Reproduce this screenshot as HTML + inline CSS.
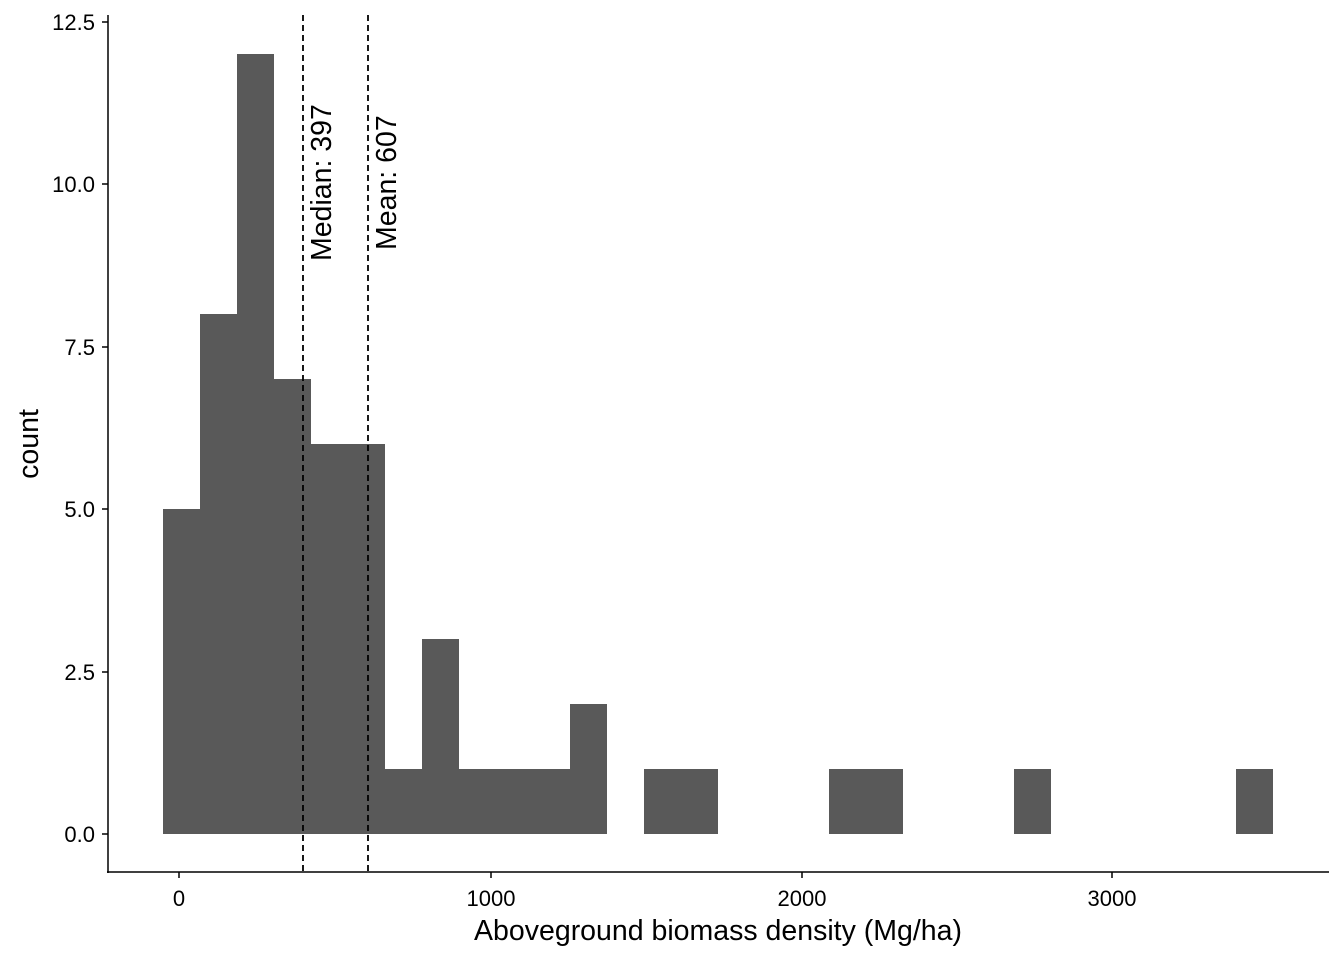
<!DOCTYPE html>
<html><head><style>body{margin:0;background:#fff}</style></head><body>
<svg width="1344" height="960" xmlns="http://www.w3.org/2000/svg" font-family="Liberation Sans, Arial, sans-serif">
<rect width="1344" height="960" fill="#fff"/>
<g fill="#595959">
<rect x="163" y="509" width="37" height="325"/>
<rect x="200" y="314" width="37" height="520"/>
<rect x="237" y="54" width="37" height="780"/>
<rect x="274" y="379" width="37" height="455"/>
<rect x="311" y="444" width="74" height="390"/>
<rect x="385" y="769" width="37" height="65"/>
<rect x="422" y="639" width="37" height="195"/>
<rect x="459" y="769" width="111" height="65"/>
<rect x="570" y="704" width="37" height="130"/>
<rect x="644" y="769" width="74" height="65"/>
<rect x="829" y="769" width="74" height="65"/>
<rect x="1014" y="769" width="37" height="65"/>
<rect x="1236" y="769" width="37" height="65"/>
</g>
<g stroke="#000" stroke-width="1.8" stroke-dasharray="6,4">
<line x1="303" y1="15" x2="303" y2="872"/>
<line x1="368" y1="15" x2="368" y2="872"/>
</g>
<g stroke="#000" stroke-width="1.5">
<line x1="108" y1="15" x2="108" y2="873"/>
<line x1="107" y1="872" x2="1329" y2="872"/>
<line x1="102" y1="834" x2="108" y2="834"/>
<line x1="102" y1="672" x2="108" y2="672"/>
<line x1="102" y1="509" x2="108" y2="509"/>
<line x1="102" y1="347" x2="108" y2="347"/>
<line x1="102" y1="184" x2="108" y2="184"/>
<line x1="102" y1="22" x2="108" y2="22"/>
<line x1="179" y1="872" x2="179" y2="878"/>
<line x1="491" y1="872" x2="491" y2="878"/>
<line x1="802" y1="872" x2="802" y2="878"/>
<line x1="1112" y1="872" x2="1112" y2="878"/>
</g>
<g font-size="22" fill="#000" text-anchor="end">
<text x="95" y="842">0.0</text>
<text x="95" y="680">2.5</text>
<text x="95" y="517">5.0</text>
<text x="95" y="355">7.5</text>
<text x="95" y="192">10.0</text>
<text x="95" y="30">12.5</text>
</g>
<g font-size="22" fill="#000" text-anchor="middle">
<text x="179" y="906">0</text>
<text x="491" y="906">1000</text>
<text x="802" y="906">2000</text>
<text x="1112" y="906">3000</text>
</g>
<text x="718" y="940" font-size="28.5" text-anchor="middle">Aboveground biomass density (Mg/ha)</text>
<text transform="translate(38,444) rotate(-90)" font-size="28.5" text-anchor="middle">count</text>
<text transform="translate(331,261) rotate(-90)" font-size="28.5">Median: 397</text>
<text transform="translate(396,250) rotate(-90)" font-size="28.5">Mean: 607</text>
</svg>
</body></html>
